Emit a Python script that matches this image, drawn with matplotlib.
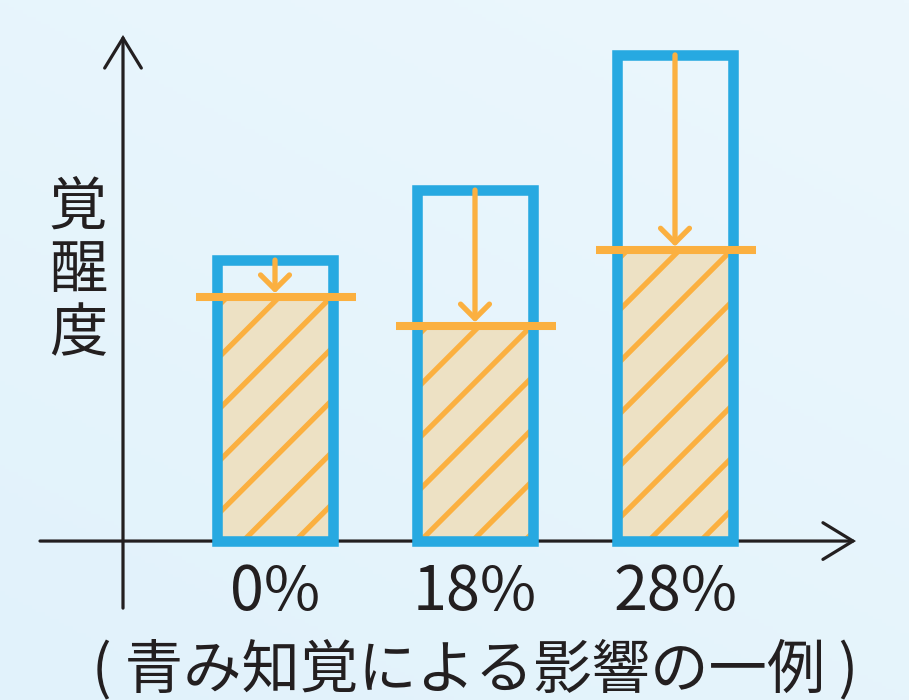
import numpy as np
import matplotlib
matplotlib.use("Agg")
import matplotlib.pyplot as plt
from matplotlib.patches import FancyArrowPatch
from matplotlib.lines import Line2D

plt.rcParams['font.family'] = ['Noto Sans CJK JP', 'DejaVu Sans']

# ---- data ----
categories = ["0%", "18%", "28%"]          # 青み(blue tint) ratio
actual_level = [57.8, 72.2, 100.0]          # blue outlined bars (覚醒度)
perceived_level = [50.2, 44.2, 59.8]        # orange line / hatched fill
y_label = "覚\n醒\n度"
caption = "( 青み知覚による影響の一例 )"

# ---- style ----
BLUE = "#27a9e1"
ORANGE = "#fbb040"
TAN = "#ede1c4"
BLACK = "#231f20"

W, H, DPI = 909, 700, 100
fig = plt.figure(figsize=(W / DPI, H / DPI), dpi=DPI)

# background gradient
bg = fig.add_axes([0, 0, 1, 1], zorder=-5)
gy, gx = np.mgrid[0:1:200j, 0:1:200j]
t = 0.6 * gy + 0.4 * (1 - gx)
c_top = np.array([236, 247, 253]) / 255
c_bot = np.array([225, 242, 251]) / 255
img = c_top[None, None, :] * (1 - t[..., None]) + c_bot[None, None, :] * t[..., None]
bg.imshow(img, aspect='auto', extent=[0, 1, 0, 1], origin='upper')
bg.set_axis_off()

ax = fig.add_axes([0, 0, 1, 1])
ax.set_facecolor('none')
ax.set_axis_off()
ax.set_xlim(-1.375, 3.17)
ax.set_ylim(-32.7, 111.3)

x = np.arange(len(categories))
bar_w = 0.578

# tan fill (perceived level)
fills = ax.bar(x, perceived_level, width=bar_w, color=TAN, edgecolor='none', zorder=2)

# hatch lines clipped to the tan fill
fig.canvas.draw()
spacing = 52
for rect in fills:
    (x0, y0), (x1, y1) = ax.transData.transform([(rect.get_x(), 0),
                                                  (rect.get_x() + rect.get_width(), rect.get_height())])
    hgt = y1 - y0
    start = x0 - hgt - 20
    k = 0
    while start + k * spacing < x1 + 10:
        sx = start + k * spacing
        ln = Line2D([sx, sx + hgt + 60], [y0 - 30, y0 + hgt + 30], transform=None,
                    color=ORANGE, lw=3.8, zorder=3, solid_capstyle='butt')
        ax.add_line(ln)
        ln.set_clip_path(rect)
        k += 1

# blue outlined bars (actual level)
ax.bar(x, actual_level, width=bar_w, facecolor='none', edgecolor=BLUE,
       linewidth=7.6, zorder=4, joinstyle='miter')

# orange perceived lines
for xi, p in zip(x, perceived_level):
    ax.add_line(Line2D([xi - 0.395, xi + 0.405], [p, p], color=ORANGE, lw=5.8,
                       solid_capstyle='butt', zorder=5))

# orange arrows from actual to perceived
for xi, a, p in zip(x, actual_level, perceived_level):
    arr = FancyArrowPatch((xi, a), (xi, p + 0.8),
                          arrowstyle='->,head_length=0.52,head_width=0.52',
                          mutation_scale=20, color=ORANGE, lw=3.8,
                          shrinkA=0, shrinkB=0, zorder=6,
                          capstyle='round', joinstyle='round')
    ax.add_patch(arr)

# axes arrows
axis_kw = dict(arrowstyle='->,head_length=1.08,head_width=0.66', mutation_scale=20,
               color=BLACK, lw=2.3, shrinkA=0, shrinkB=0, zorder=1,
               capstyle='round', joinstyle='miter')
ax.add_patch(FancyArrowPatch((-1.175, 0), (2.905, 0), **axis_kw))
ax.add_patch(FancyArrowPatch((-0.76, -13.8), (-0.76, 104.1), **axis_kw))

# category labels
for xi, lab in zip(x, categories):
    ax.text(xi, -14.2, lab, ha='center', va='baseline', fontsize=44, color=BLACK)

# y label
fig.text(78 / W, 1 - 271 / H, y_label, ha='center', va='center', fontsize=42,
         color=BLACK, linespacing=1.05, multialignment='center')

# caption
fig.text(475 / W, 1 - 671 / H, caption, ha='center', va='center', fontsize=42,
         color=BLACK)

fig.savefig("out.png", dpi=DPI)
